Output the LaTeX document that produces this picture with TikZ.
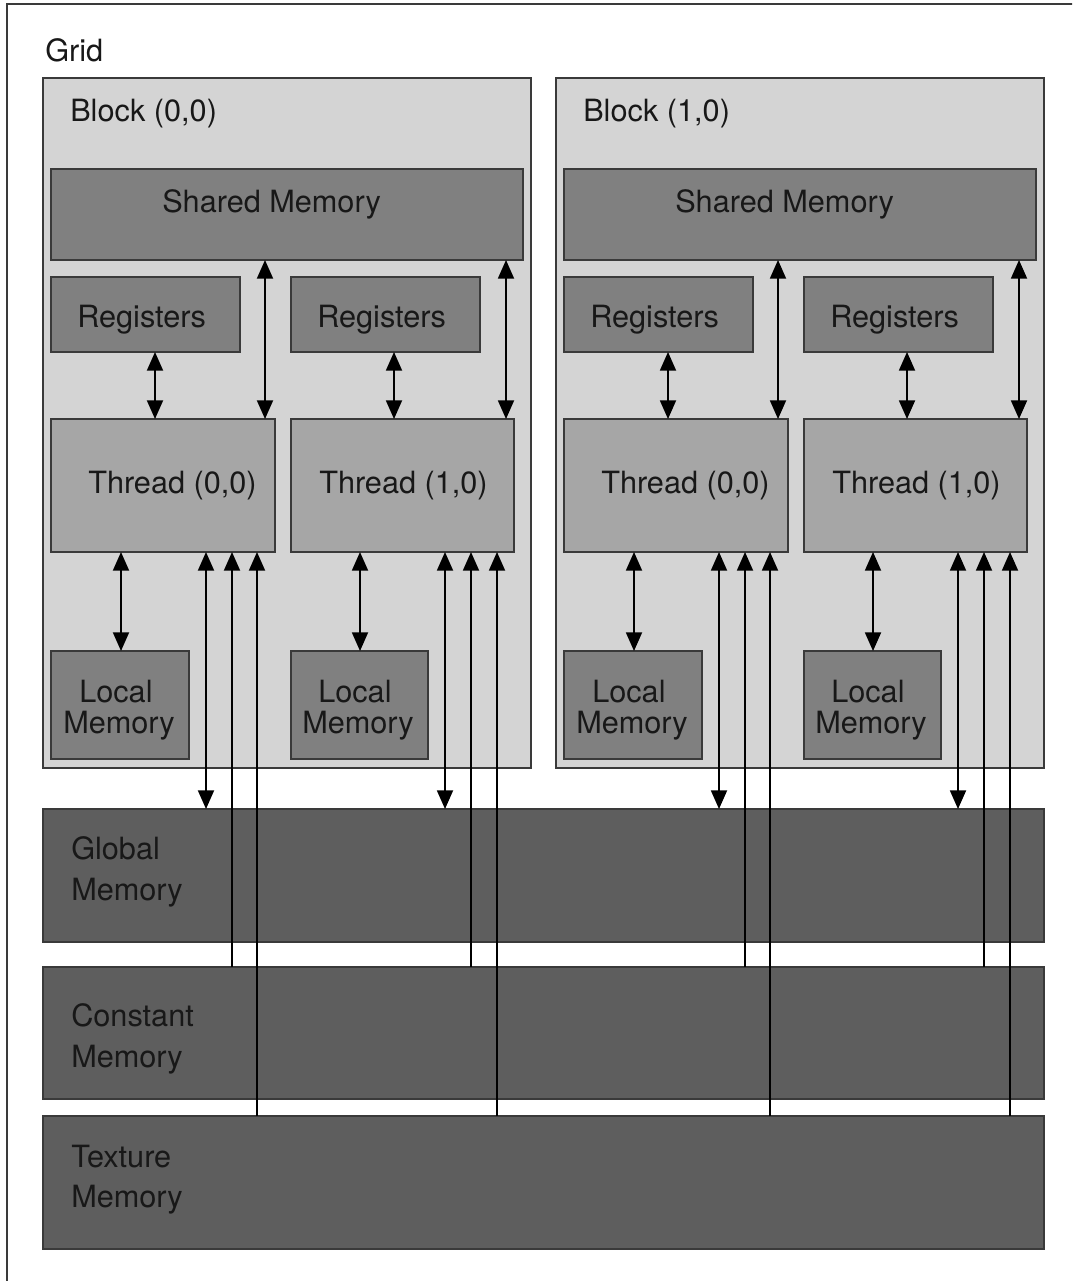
\documentclass[tikz,border=0pt]{standalone}
\usepackage{fontspec}
\setmainfont{TeX Gyre Heros}
\usetikzlibrary{arrows.meta}

\definecolor{blockgray}{HTML}{D4D4D4}
\definecolor{memgray}{HTML}{808080}
\definecolor{threadgray}{HTML}{A6A6A6}
\definecolor{devgray}{HTML}{5E5E5E}
\definecolor{edgegray}{HTML}{3A3A3A}
\definecolor{ink}{HTML}{181818}

% rectangle node from pixel corners: name, style, x1, y1, x2, y2
\newcommand\pxbox[6]{%
  \node[#2, anchor=north west,
        minimum width={((#5)-(#3))*0.75pt}, minimum height={((#6)-(#4))*0.75pt}]
        (#1) at (#3,#4) {};}

\begin{document}
\begin{tikzpicture}[x=0.75pt, y=-0.75pt,
  area/.style={draw=edgegray, line width=0.8pt, inner sep=0pt, outer sep=0pt},
  blockbox/.style={area, fill=blockgray},
  membox/.style={area, fill=memgray},
  threadbox/.style={area, fill=threadgray},
  devbox/.style={area, fill=devgray},
  lbl/.style={anchor=base west, inner sep=0pt, text=ink,
              font=\fontsize{23}{27}\selectfont},
  link/.style={line width=1.4pt, black},
  both/.style={link, {Triangle[length=14pt, width=12pt]}-{Triangle[length=14pt, width=12pt]}},
  upto/.style={link, {Triangle[length=14pt, width=12pt]}-}]

\useasboundingbox (0,0) rectangle (1072,1281);
\clip (0,0) rectangle (1072,1281);
\fill[white] (0,0) rectangle (1072,1281);

% outer grid frame
\draw[line width=1.4pt, edgegray] (7,1290) -- (7,4) -- (1080,4);
\node[lbl] (gridlbl) at (45,62) {Grid};

% the two thread blocks
\foreach \b in {0,1} {
  \pgfmathtruncatemacro\o{513*\b}
  \pxbox{blk\b}{blockbox}{43+\o}{78}{531+\o}{768}
  \node[lbl] (blklbl\b) at (70+\o,121) {Block (\b,0)};
  \pxbox{sm\b}{membox}{51+\o}{169}{523+\o}{260}
  \node[lbl] (smlbl\b) at (162+\o,212) {Shared Memory};
  \pxbox{rgA\b}{membox}{51+\o}{277}{240+\o}{352}
  \pxbox{rgB\b}{membox}{291+\o}{277}{480+\o}{352}
  \node[lbl] (rgAlbl\b) at (77+\o,327) {Registers};
  \node[lbl] (rgBlbl\b) at (317+\o,327) {Registers};
  \pxbox{thA\b}{threadbox}{51+\o}{419}{275+\o}{552}
  \pxbox{thB\b}{threadbox}{291+\o}{419}{514+\o}{552}
  \node[lbl] (thAlbl\b) at (88+\o,493) {Thread (0,0)};
  \node[lbl] (thBlbl\b) at (319+\o,493) {Thread (1,0)};
  \pxbox{lmA\b}{membox}{51+\o}{651}{189+\o}{759}
  \pxbox{lmB\b}{membox}{291+\o}{651}{428+\o}{759}
  \node[lbl] (lmAlblA\b) at (79+\o,702) {Local};
  \node[lbl] (lmAlblB\b) at (63+\o,733) {Memory};
  \node[lbl] (lmBlblA\b) at (318+\o,702) {Local};
  \node[lbl] (lmBlblB\b) at (302+\o,733) {Memory};
}

% device-wide memories
\pxbox{glob}{devbox}{43}{809}{1044}{942}
\node[lbl] (globA) at (71,859) {Global};
\node[lbl] (globB) at (71,900) {Memory};
\pxbox{const}{devbox}{43}{967}{1044}{1099}
\node[lbl] (constA) at (71,1026) {Constant};
\node[lbl] (constB) at (71,1067) {Memory};
\pxbox{tex}{devbox}{43}{1116}{1044}{1249}
\node[lbl] (texA) at (71,1167) {Texture};
\node[lbl] (texB) at (71,1207) {Memory};

% memory access paths of each thread
\foreach \b in {0,1} {
  \pgfmathtruncatemacro\o{513*\b}
  \draw[both] (rgA\b.south -| 155+\o,0) -- (thA\b.north -| 155+\o,0);
  \draw[both] (rgB\b.south -| 394+\o,0) -- (thB\b.north -| 394+\o,0);
  \draw[both] (sm\b.south -| 265+\o,0) -- (thA\b.north -| 265+\o,0);
  \draw[both] (sm\b.south -| 506+\o,0) -- (thB\b.north -| 506+\o,0);
  \draw[both] (thA\b.south -| 121+\o,0) -- (lmA\b.north -| 121+\o,0);
  \draw[both] (thB\b.south -| 360+\o,0) -- (lmB\b.north -| 360+\o,0);
  \draw[both] (thA\b.south -| 206+\o,0) -- (glob.north -| 206+\o,0);
  \draw[both] (thB\b.south -| 445+\o,0) -- (glob.north -| 445+\o,0);
  \draw[upto] (thA\b.south -| 232+\o,0) -- (const.north -| 232+\o,0);
  \draw[upto] (thB\b.south -| 471+\o,0) -- (const.north -| 471+\o,0);
  \draw[upto] (thA\b.south -| 257+\o,0) -- (tex.north -| 257+\o,0);
  \draw[upto] (thB\b.south -| 497+\o,0) -- (tex.north -| 497+\o,0);
}
\end{tikzpicture}
\end{document}
